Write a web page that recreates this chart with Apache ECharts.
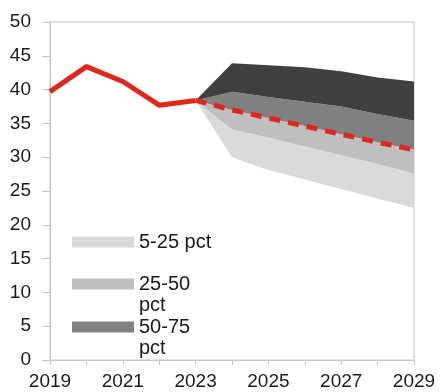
<!DOCTYPE html>
<html>
<head>
<meta charset="utf-8">
<script src="https://cdn.jsdelivr.net/npm/echarts@6/dist/echarts.min.js"></script>
<style>html,body{margin:0;padding:0;background:#fff}#c{width:440px;height:392px}</style>
</head>
<body>
<div id="c"></div>
<script>
var years = ['2019','2020','2021','2022','2023','2024','2025','2026','2027','2028','2029'];
var actual = [39.7, 43.4, 41.2, 37.7, 38.4, null, null, null, null, null, null];
var median = [null, null, null, null, 38.4, 37.0, 35.8, 34.6, 33.4, 32.2, 31.1];
var p5  = [null, null, null, null, 38.4, 30.0, 28.1, 26.7, 25.3, 23.9, 22.5];
var p25 = [null, null, null, null, 38.4, 34.1, 32.9, 31.6, 30.3, 29.0, 27.6];
var p75 = [null, null, null, null, 38.4, 39.7, 38.9, 38.2, 37.5, 36.4, 35.4];
var p95 = [null, null, null, null, 38.4, 43.9, 43.6, 43.3, 42.7, 41.8, 41.2];
var yTicks = {min: 0, max: 50, step: 5};

function diff(a, b) { return a.map(function (v, i) { return v == null ? null : +(v - b[i]).toFixed(2); }); }

var font = 'Liberation Sans, Arial, sans-serif';
var axisColor = '#c6c6c6';
var chart = echarts.init(document.getElementById('c'));

function band(name, data, color) {
  return {
    name: name, type: 'line', stack: 'fan', data: data, symbol: 'none',
    lineStyle: {width: 0}, itemStyle: {color: color}, areaStyle: {color: color, opacity: 1},
    silent: true, z: 1
  };
}
function leg(name, top, fmt) {
  return {
    data: [{name: name, icon: 'rect'}], left: 72, top: top, padding: 0,
    itemWidth: 62, itemHeight: 11, orient: 'vertical', selectedMode: false,
    formatter: fmt,
    textStyle: {fontFamily: font, fontSize: 20, color: '#1a1a1a', lineHeight: 21}
  };
}

chart.setOption({
  animation: false,
  grid: {left: 50, right: 26, top: 22, bottom: 32, show: true, borderColor: axisColor, borderWidth: 1, backgroundColor: 'transparent'},
  legend: [
    leg('5-25 pct', 231.5, function (n) { return n; }),
    leg('25-50 pct', 252.5, function () { return ' \n25-50\npct'; }),
    leg('50-75 pct', 295.5, function () { return ' \n50-75\npct'; })
  ],
  xAxis: {
    type: 'category', data: years, boundaryGap: false,
    axisLine: {lineStyle: {color: axisColor, width: 1}},
    axisTick: {show: true, interval: 0, length: 5, lineStyle: {color: axisColor}},
    axisLabel: {interval: function (i) { return i % 2 === 0; }, margin: 12, fontFamily: font, fontSize: 19, color: '#1a1a1a'},
    splitLine: {show: false}
  },
  yAxis: {
    type: 'value', min: yTicks.min, max: yTicks.max, interval: yTicks.step,
    axisLine: {show: true, lineStyle: {color: axisColor, width: 1}},
    axisTick: {show: true, length: 8, lineStyle: {color: axisColor}},
    axisLabel: {margin: 19, fontFamily: font, fontSize: 19, color: '#1a1a1a'},
    splitLine: {show: false}
  },
  series: [
    {name: 'base', type: 'line', stack: 'fan', data: p5, symbol: 'none', lineStyle: {width: 0}, silent: true, z: 1},
    band('5-25 pct', diff(p25, p5), '#d9d9d9'),
    band('25-50 pct', diff(median, p25), '#bfbfbf'),
    band('50-75 pct', diff(p75, median), '#808080'),
    band('75-95 pct', diff(p95, p75), '#404040'),
    {name: 'Actual', type: 'line', data: actual, symbol: 'none', lineStyle: {color: '#e3261c', width: 5}, z: 5},
    {name: 'Median', type: 'line', data: median, symbol: 'none', lineStyle: {color: '#e3261c', width: 5, type: [11, 8]}, z: 5}
  ]
});
</script>
</body>
</html>
